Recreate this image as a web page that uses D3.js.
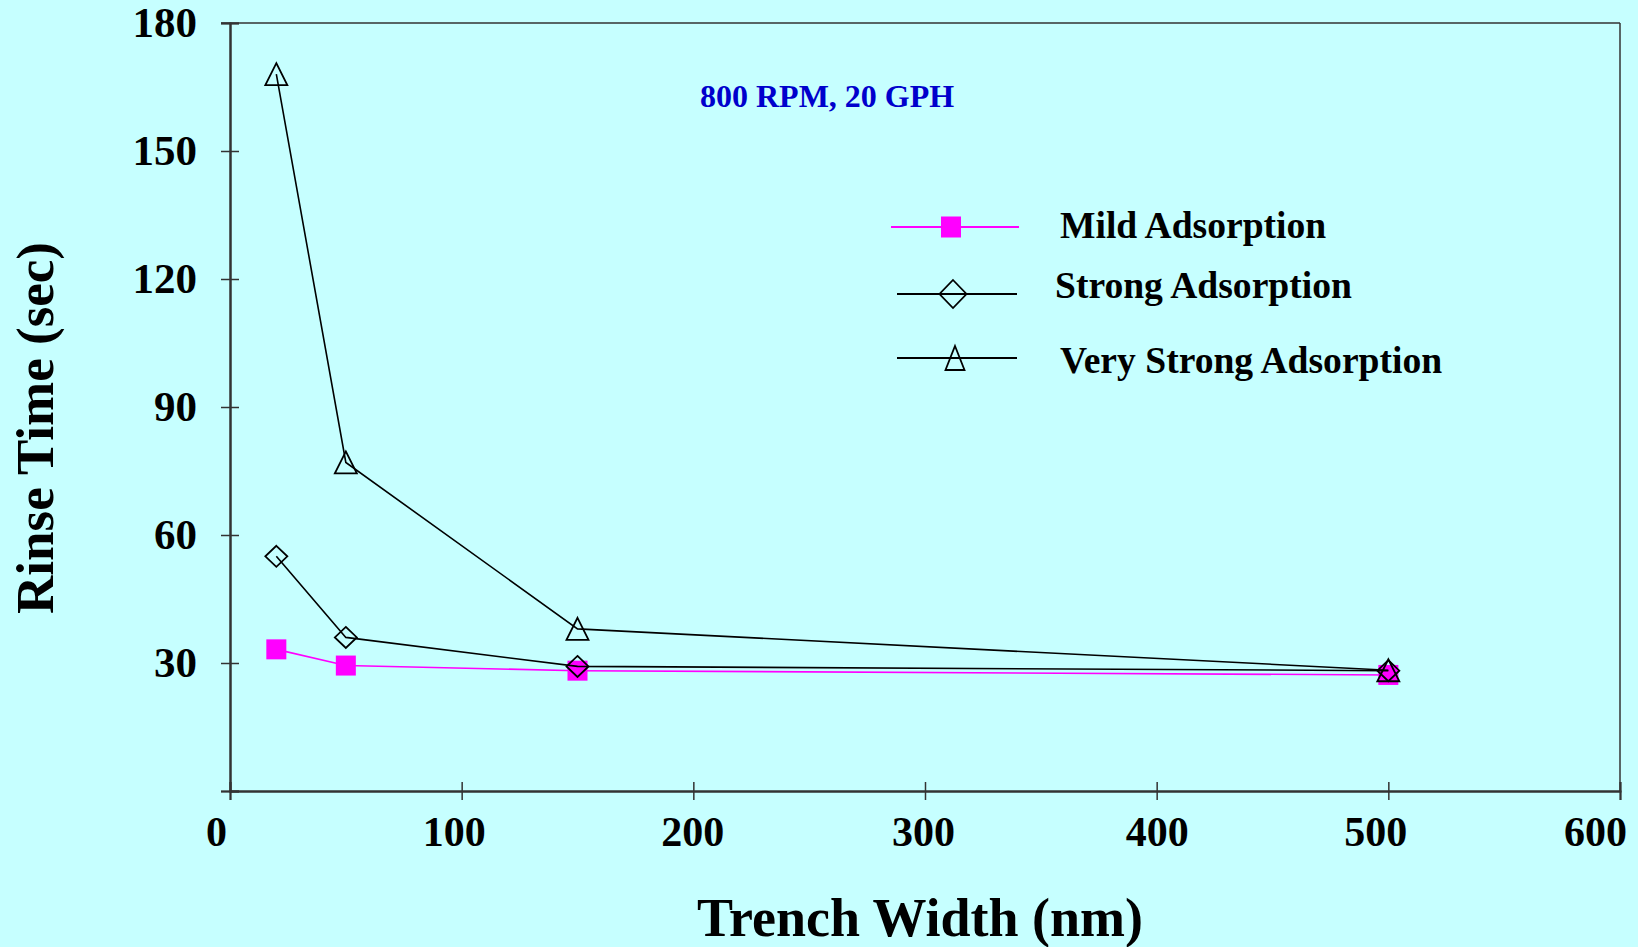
<!DOCTYPE html>
<html>
<head>
<meta charset="utf-8">
<script src="https://cdn.jsdelivr.net/npm/d3@7"></script>
<style>
  html, body { margin: 0; padding: 0; background: #c6ffff; }
  svg { display: block; }
  text { font-family: "Liberation Serif", "Times New Roman", serif; font-weight: bold; }
</style>
</head>
<body>
<svg id="chart" width="1638" height="947"></svg>
<script>
// Trench width (nm) on the x axis
const trenchWidths = [20, 50, 150, 500];

// Rinse time (sec) for each adsorption strength
const mildAdsorption = [33.2, 29.4, 28.2, 27.2];
const strongAdsorption = [55, 36, 29.2, 28.2];
const veryStrongAdsorption = [168, 77, 38, 28.3];

const seriesNames = ["Mild Adsorption", "Strong Adsorption", "Very Strong Adsorption"];

const xTicks = [0, 100, 200, 300, 400, 500, 600];
const yTicks = [0, 30, 60, 90, 120, 150, 180];
const yTickLabels = ["", "30", "60", "90", "120", "150", "180"];

const xTitle = "Trench Width (nm)";
const yTitle = "Rinse Time (sec)";
const conditionNote = "800 RPM, 20 GPH";

// ---- layout ----
const W = 1638, H = 947;
const plot = { left: 230, right: 1620, top: 23, bottom: 791 };
const axisColor = "#333";
// tick labels along the bottom sit slightly left of some ticks
const xLabelNudge = { 0: -14, 100: -8, 200: -1, 300: -2, 400: 0, 500: -13, 600: -25 };

const svg = d3.select("#chart");

svg.append("rect").attr("width", W).attr("height", H).attr("fill", "#c6ffff");

const x = d3.scaleLinear().domain([0, 600]).range([plot.left, plot.right]);
const y = d3.scaleLinear().domain([0, 180]).range([plot.bottom, plot.top]);

// frame: top and right edges
svg.append("line")
  .attr("x1", plot.left - 9).attr("x2", plot.right)
  .attr("y1", plot.top).attr("y2", plot.top)
  .attr("stroke", axisColor).attr("stroke-width", 1.5);
svg.append("line")
  .attr("x1", plot.right).attr("x2", plot.right)
  .attr("y1", plot.top).attr("y2", plot.bottom)
  .attr("stroke", axisColor).attr("stroke-width", 1.5);

// y axis: outward ticks with labels, then inward ticks
const yAxisG = svg.append("g")
  .attr("transform", `translate(${plot.left},0)`)
  .call(d3.axisLeft(y).tickValues(yTicks).tickSize(9).tickPadding(24)
    .tickFormat((d, i) => yTickLabels[i]));
svg.append("g")
  .attr("transform", `translate(${plot.left},0)`)
  .call(d3.axisLeft(y).tickValues(yTicks).tickSize(-9).tickFormat(""));

// x axis
const xAxisG = svg.append("g")
  .attr("transform", `translate(0,${plot.bottom})`)
  .call(d3.axisBottom(x).tickValues(xTicks).tickSize(9).tickFormat(d3.format("d")));
svg.append("g")
  .attr("transform", `translate(0,${plot.bottom})`)
  .call(d3.axisBottom(x).tickValues(xTicks).tickSize(-9).tickFormat(""));

svg.selectAll(".domain").attr("stroke", axisColor).attr("stroke-width", 2);
svg.selectAll(".tick line").attr("stroke", axisColor).attr("stroke-width", 1.5);

yAxisG.selectAll(".tick text")
  .attr("font-size", 43)
  .attr("font-family", "'Liberation Serif', 'Times New Roman', serif")
  .attr("font-weight", "bold")
  .attr("fill", "#000");

xAxisG.selectAll(".tick text")
  .attr("font-size", 42)
  .attr("font-family", "'Liberation Serif', 'Times New Roman', serif")
  .attr("font-weight", "bold")
  .attr("fill", "#000")
  .attr("y", 55).attr("dy", 0)
  .attr("dx", d => xLabelNudge[d] || 0);

// axis titles
svg.append("text")
  .attr("x", 920).attr("y", 936)
  .attr("text-anchor", "middle")
  .attr("font-size", 54)
  .text(xTitle);

svg.append("text")
  .attr("transform", "translate(53,428) rotate(-90)")
  .attr("text-anchor", "middle")
  .attr("font-size", 53)
  .text(yTitle);

// condition note
svg.append("text")
  .attr("x", 700).attr("y", 107)
  .attr("font-size", 32)
  .attr("fill", "#0000cc")
  .text(conditionNote);

// ---- markers ----
function drawMarker(g, kind, cx, cy, s) {
  if (kind === "square") {
    g.append("rect")
      .attr("x", cx - s.w / 2).attr("y", cy - s.h / 2)
      .attr("width", s.w).attr("height", s.h)
      .attr("fill", "#ff00ff");
  } else if (kind === "diamond") {
    g.append("path")
      .attr("d", `M${cx},${cy - s.h / 2}L${cx + s.w / 2},${cy}L${cx},${cy + s.h / 2}L${cx - s.w / 2},${cy}Z`)
      .attr("fill", "none").attr("stroke", "#000").attr("stroke-width", 1.8);
  } else {
    g.append("path")
      .attr("d", `M${cx},${cy - s.h / 2}L${cx + s.w / 2},${cy + s.h / 2}L${cx - s.w / 2},${cy + s.h / 2}Z`)
      .attr("fill", "none").attr("stroke", "#000").attr("stroke-width", 1.8);
  }
}

const series = [
  { name: seriesNames[0], values: mildAdsorption, color: "#ff00ff", marker: "square",
    size: { w: 20, h: 20 }, legendSize: { w: 20, h: 21 }, legendY: 227, textY: 238,
    lineX: [891, 1019], markerX: 951, textX: 1060 },
  { name: seriesNames[1], values: strongAdsorption, color: "#000", marker: "diamond",
    size: { w: 22, h: 21 }, legendSize: { w: 27, h: 28 }, legendY: 294, textY: 298,
    lineX: [897, 1017], markerX: 953, textX: 1055 },
  { name: seriesNames[2], values: veryStrongAdsorption, color: "#000", marker: "triangle",
    size: { w: 22, h: 22 }, legendSize: { w: 19, h: 24 }, legendY: 358, textY: 373,
    lineX: [897, 1017], markerX: 955, textX: 1060 }
];

const line = d3.line()
  .x((d, i) => x(trenchWidths[i]))
  .y(d => y(d));

series.forEach(s => {
  const g = svg.append("g");
  g.append("path")
    .attr("d", line(s.values))
    .attr("fill", "none")
    .attr("stroke", s.color)
    .attr("stroke-width", 1.6);
  s.values.forEach((v, i) => drawMarker(g, s.marker, x(trenchWidths[i]), y(v), s.size));
});

// ---- legend ----
series.forEach(s => {
  const g = svg.append("g");
  g.append("line")
    .attr("x1", s.lineX[0]).attr("x2", s.lineX[1])
    .attr("y1", s.legendY).attr("y2", s.legendY)
    .attr("stroke", s.color).attr("stroke-width", 1.8);
  drawMarker(g, s.marker, s.markerX, s.legendY, s.legendSize);
  g.append("text")
    .attr("x", s.textX).attr("y", s.textY)
    .attr("font-size", 37.6)
    .attr("fill", "#000")
    .text(s.name);
});
</script>
</body>
</html>
